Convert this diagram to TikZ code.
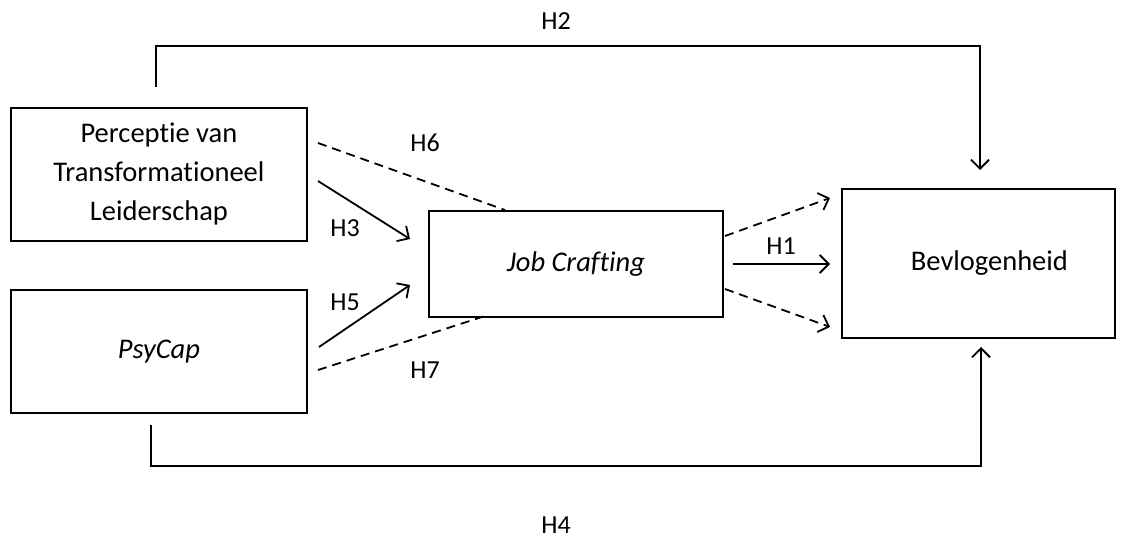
\documentclass[tikz,border=0pt]{standalone}
\usepackage{fontspec}
\setmainfont{Carlito}[Ligatures=NoCommon]
\usetikzlibrary{arrows.meta}
\begin{document}
\begin{tikzpicture}[x=1pt,y=-1pt,
  box/.style={draw,line width=1.8pt,inner sep=0pt,anchor=north west,font=\fontsize{28.5}{39}\selectfont,align=center},
  conn/.style={line width=1.8pt},
  arr/.style={conn,-{Straight Barb[length=9pt,width=18pt,line width=1.8pt]}},
  dashline/.style={conn,dash pattern=on 9pt off 6pt},
  lbl/.style={font=\fontsize{26}{30}\selectfont}]
\useasboundingbox (0,0) rectangle (1126,539);
\node[box,minimum width=296pt,minimum height=133pt] (ptl) at (10,107) {Perceptie van\\Transformationeel\\Leiderschap};
\node[box,minimum width=296pt,minimum height=123pt] (psy) at (10,289) {\itshape PsyCap};
\node[box,minimum width=294pt,minimum height=106pt] (jc) at (428,210) {\itshape Job Crafting};
\node[box,minimum width=273pt,minimum height=149pt] (bev) at (841,188) {\hspace*{22pt}Bevlogenheid};
% H2
\coordinate (h2s) at (156,87);
\coordinate (h2e) at (980,170);
\draw[arr] (h2s) |- (980,46) -- (h2e);
\node[lbl] (lh2) at (556,21) {H2};
% H4
\coordinate (h4s) at (151,425);
\coordinate (h4e) at (981,347);
\draw[arr] (h4s) |- (981,466) -- (h4e);
\node[lbl] (lh4) at (556,525) {H4};
% left side
\coordinate (h6s) at (318,143);
\coordinate (h6e) at (505,210);
\draw[dashline] (h6s) -- (h6e);
\node[lbl] (lh6) at (425,143) {H6};
\coordinate (h3s) at (318,181);
\coordinate (h3e) at (410,239);
\draw[arr] (h3s) -- (h3e);
\node[lbl] (lh3) at (345,228) {H3};
\coordinate (h5s) at (319,347);
\coordinate (h5e) at (410,285);
\draw[arr] (h5s) -- (h5e);
\node[lbl] (lh5) at (345,302) {H5};
\coordinate (h7s) at (318,370);
\coordinate (h7e) at (485,316);
\draw[dashline] (h7s) -- (h7e);
\node[lbl] (lh7) at (425,370) {H7};
% right side
\coordinate (d1s) at (725,236);
\coordinate (d1e) at (830,198);
\draw[arr,dash pattern=on 9pt off 6pt] (d1s) -- (d1e);
\coordinate (h1s) at (733,264);
\coordinate (h1e) at (830,264);
\draw[arr] (h1s) -- (h1e);
\node[lbl] (lh1) at (781,246) {H1};
\coordinate (d2s) at (725,289);
\coordinate (d2e) at (830,327);
\draw[arr,dash pattern=on 9pt off 6pt] (d2s) -- (d2e);
\end{tikzpicture}
\end{document}
